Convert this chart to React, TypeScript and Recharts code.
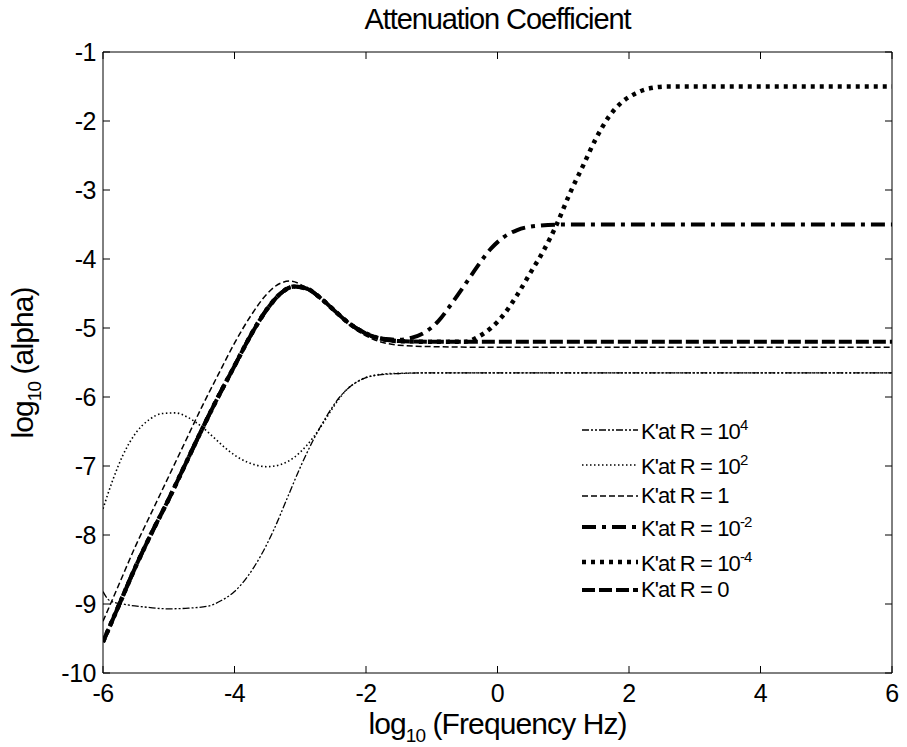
import React from "react";
import { LineChart, Line, XAxis, YAxis } from "recharts";

// tick labels
const xTicks = [-6, -4, -2, 0, 2, 4, 6];
const yTicks = [-10, -9, -8, -7, -6, -5, -4, -3, -2, -1];

// log10(frequency) vs log10(alpha)
const r4 = [
  { x: -6, y: -8.82 }, { x: -5.9, y: -8.95 }, { x: -5.7, y: -9.0 }, { x: -5.4, y: -9.04 },
  { x: -5.0, y: -9.07 }, { x: -4.7, y: -9.06 }, { x: -4.4, y: -9.03 }, { x: -4.2, y: -8.95 },
  { x: -4.0, y: -8.82 }, { x: -3.8, y: -8.6 }, { x: -3.6, y: -8.3 }, { x: -3.4, y: -7.92 },
  { x: -3.2, y: -7.47 }, { x: -3.0, y: -7.02 }, { x: -2.8, y: -6.62 }, { x: -2.6, y: -6.28 },
  { x: -2.4, y: -6.0 }, { x: -2.2, y: -5.82 }, { x: -2.0, y: -5.72 }, { x: -1.8, y: -5.68 },
  { x: -1.5, y: -5.66 }, { x: -1, y: -5.65 }, { x: 2, y: -5.65 }, { x: 6, y: -5.65 },
];

const r2 = [
  { x: -6, y: -7.62 }, { x: -5.85, y: -7.2 }, { x: -5.7, y: -6.85 }, { x: -5.5, y: -6.52 },
  { x: -5.3, y: -6.33 }, { x: -5.1, y: -6.24 }, { x: -4.9, y: -6.23 }, { x: -4.7, y: -6.3 },
  { x: -4.5, y: -6.43 }, { x: -4.3, y: -6.6 }, { x: -4.1, y: -6.77 }, { x: -3.9, y: -6.9 },
  { x: -3.7, y: -6.98 }, { x: -3.5, y: -7.01 }, { x: -3.3, y: -6.98 }, { x: -3.1, y: -6.88 },
  { x: -2.9, y: -6.7 }, { x: -2.7, y: -6.45 }, { x: -2.5, y: -6.15 }, { x: -2.3, y: -5.9 },
  { x: -2.1, y: -5.76 }, { x: -1.9, y: -5.69 }, { x: -1.6, y: -5.66 }, { x: -1, y: -5.65 },
  { x: 2, y: -5.65 }, { x: 6, y: -5.65 },
];

const r1 = [
  { x: -6, y: -9.25 }, { x: -5.75, y: -8.7 }, { x: -5.5, y: -8.15 }, { x: -5.25, y: -7.65 },
  { x: -5, y: -7.15 }, { x: -4.75, y: -6.65 }, { x: -4.5, y: -6.15 }, { x: -4.25, y: -5.68 },
  { x: -4, y: -5.22 }, { x: -3.75, y: -4.82 }, { x: -3.5, y: -4.5 }, { x: -3.3, y: -4.35 },
  { x: -3.15, y: -4.32 }, { x: -2.9, y: -4.42 }, { x: -2.7, y: -4.55 }, { x: -2.5, y: -4.73 },
  { x: -2.3, y: -4.92 }, { x: -2.1, y: -5.06 }, { x: -1.9, y: -5.16 }, { x: -1.7, y: -5.22 },
  { x: -1.5, y: -5.25 }, { x: -1, y: -5.27 }, { x: 0, y: -5.28 }, { x: 6, y: -5.28 },
];

const rm2 = [
  { x: -6, y: -9.55 }, { x: -5.75, y: -9.0 }, { x: -5.5, y: -8.45 }, { x: -5.25, y: -7.95 },
  { x: -5, y: -7.48 }, { x: -4.75, y: -6.98 }, { x: -4.5, y: -6.48 }, { x: -4.25, y: -6.0 },
  { x: -4, y: -5.55 }, { x: -3.75, y: -5.1 }, { x: -3.5, y: -4.72 }, { x: -3.3, y: -4.5 },
  { x: -3.1, y: -4.4 }, { x: -2.9, y: -4.43 }, { x: -2.7, y: -4.56 }, { x: -2.5, y: -4.73 },
  { x: -2.3, y: -4.9 }, { x: -2.1, y: -5.03 }, { x: -1.9, y: -5.12 }, { x: -1.7, y: -5.16 },
  { x: -1.5, y: -5.17 }, { x: -1.3, y: -5.14 }, { x: -1.1, y: -5.06 }, { x: -0.9, y: -4.9 },
  { x: -0.7, y: -4.65 }, { x: -0.5, y: -4.38 }, { x: -0.3, y: -4.1 }, { x: -0.1, y: -3.85 },
  { x: 0.1, y: -3.68 }, { x: 0.3, y: -3.58 }, { x: 0.6, y: -3.52 }, { x: 1, y: -3.5 },
  { x: 6, y: -3.5 },
];

const rm4 = [
  { x: -6, y: -9.55 }, { x: -5.75, y: -9.0 }, { x: -5.5, y: -8.45 }, { x: -5.25, y: -7.95 },
  { x: -5, y: -7.48 }, { x: -4.75, y: -6.98 }, { x: -4.5, y: -6.48 }, { x: -4.25, y: -6.0 },
  { x: -4, y: -5.55 }, { x: -3.75, y: -5.1 }, { x: -3.5, y: -4.72 }, { x: -3.3, y: -4.5 },
  { x: -3.1, y: -4.4 }, { x: -2.9, y: -4.43 }, { x: -2.7, y: -4.56 }, { x: -2.5, y: -4.73 },
  { x: -2.3, y: -4.9 }, { x: -2.1, y: -5.03 }, { x: -1.9, y: -5.12 }, { x: -1.7, y: -5.17 },
  { x: -1.5, y: -5.19 }, { x: -1, y: -5.2 }, { x: -0.5, y: -5.2 }, { x: -0.3, y: -5.13 },
  { x: -0.1, y: -5.0 }, { x: 0.1, y: -4.8 }, { x: 0.3, y: -4.52 }, { x: 0.5, y: -4.2 },
  { x: 0.7, y: -3.88 }, { x: 0.9, y: -3.5 }, { x: 1.1, y: -3.05 }, { x: 1.3, y: -2.65 },
  { x: 1.5, y: -2.25 }, { x: 1.7, y: -1.93 }, { x: 1.9, y: -1.72 }, { x: 2.1, y: -1.6 },
  { x: 2.3, y: -1.53 }, { x: 2.6, y: -1.5 }, { x: 6, y: -1.5 },
];

const r0 = [
  { x: -6, y: -9.55 }, { x: -5.75, y: -9.0 }, { x: -5.5, y: -8.45 }, { x: -5.25, y: -7.95 },
  { x: -5, y: -7.48 }, { x: -4.75, y: -6.98 }, { x: -4.5, y: -6.48 }, { x: -4.25, y: -6.0 },
  { x: -4, y: -5.55 }, { x: -3.75, y: -5.1 }, { x: -3.5, y: -4.72 }, { x: -3.3, y: -4.5 },
  { x: -3.1, y: -4.4 }, { x: -2.9, y: -4.43 }, { x: -2.7, y: -4.56 }, { x: -2.5, y: -4.73 },
  { x: -2.3, y: -4.9 }, { x: -2.1, y: -5.03 }, { x: -1.9, y: -5.12 }, { x: -1.7, y: -5.17 },
  { x: -1.5, y: -5.19 }, { x: -1, y: -5.2 }, { x: 0, y: -5.2 }, { x: 6, y: -5.2 },
];

const FONT = "'Liberation Sans', Arial, sans-serif";

const series = [
  { key: "r4", data: r4, label: "10", sup: "4", width: 1.3, dash: "7 2 2 2 2 2" },
  { key: "r2", data: r2, label: "10", sup: "2", width: 1.6, dash: "1.5 2.5" },
  { key: "r1", data: r1, label: "1", sup: "", width: 1.5, dash: "6 3" },
  { key: "rm2", data: rm2, label: "10", sup: "-2", width: 4, dash: "14 6 4 6" },
  { key: "rm4", data: rm4, label: "10", sup: "-4", width: 4.5, dash: "4 5" },
  { key: "r0", data: r0, label: "0", sup: "", width: 4, dash: "13 4" },
];

// legend row centres (px)
const legendRows = [430, 465, 496, 527, 562, 590];

const BottomTick = (props: any) => {
  const { x, y, payload } = props;
  return (
    <g>
      <line x1={x} y1={y} x2={x} y2={y - 7} stroke="#000" strokeWidth={1} />
      <text x={x} y={y + 29} textAnchor="middle" fontSize={25} fontFamily={FONT} fill="#000" letterSpacing={-0.5}>
        {payload.value}
      </text>
    </g>
  );
};

const LeftTick = (props: any) => {
  const { x, y, payload } = props;
  return (
    <g>
      <line x1={x} y1={y} x2={x + 7} y2={y} stroke="#000" strokeWidth={1} />
      <text x={x - 7} y={y + 9} textAnchor="end" fontSize={25} fontFamily={FONT} fill="#000" letterSpacing={-0.5}>
        {payload.value}
      </text>
    </g>
  );
};

const TopTick = (props: any) => {
  const { x, y } = props;
  return <line x1={x} y1={y} x2={x} y2={y + 7} stroke="#000" strokeWidth={1} />;
};

const RightTick = (props: any) => {
  const { x, y } = props;
  return <line x1={x} y1={y} x2={x - 7} y2={y} stroke="#000" strokeWidth={1} />;
};

export default function App() {
  return (
    <div style={{ position: "absolute", left: 0, top: 0, width: 907, height: 747, background: "#fff", fontFamily: FONT }}>
      <LineChart width={907} height={747} margin={{ top: 51, right: 14, bottom: 73, left: 102 }}>
        <XAxis
          dataKey="x"
          type="number"
          domain={[-6, 6]}
          ticks={xTicks}
          height={1}
          tickSize={0}
          tickMargin={0}
          tick={<BottomTick />}
          axisLine={{ stroke: "#000" }}
          allowDataOverflow
        />
        <XAxis
          xAxisId="top"
          orientation="top"
          dataKey="x"
          type="number"
          domain={[-6, 6]}
          ticks={xTicks}
          height={1}
          tickSize={0}
          tickMargin={0}
          tick={<TopTick />}
          axisLine={{ stroke: "#000" }}
          allowDataOverflow
        />
        <YAxis
          type="number"
          domain={[-10, -1]}
          ticks={yTicks}
          width={1}
          tickSize={0}
          tickMargin={0}
          tick={<LeftTick />}
          axisLine={{ stroke: "#000" }}
          allowDataOverflow
        />
        <YAxis
          yAxisId="right"
          orientation="right"
          type="number"
          domain={[-10, -1]}
          ticks={yTicks}
          width={1}
          tickSize={0}
          tickMargin={0}
          tick={<RightTick />}
          axisLine={{ stroke: "#000" }}
          allowDataOverflow
        />
        {series.map((s) => (
          <Line
            key={s.key}
            data={s.data}
            dataKey="y"
            type="monotone"
            stroke="#000"
            strokeWidth={s.width}
            strokeDasharray={s.dash}
            dot={false}
            activeDot={false}
            isAnimationActive={false}
          />
        ))}
      </LineChart>

      {/* title */}
      <div style={{ position: "absolute", left: 103, width: 789, top: 3, textAlign: "center", fontSize: 29, letterSpacing: -1.1, lineHeight: "32px" }}>
        Attenuation Coefficient
      </div>

      {/* x label */}
      <div style={{ position: "absolute", left: 103, width: 789, top: 708, textAlign: "center", fontSize: 30, letterSpacing: -0.9, lineHeight: "32px" }}>
        log<sub style={{ fontSize: 19, verticalAlign: -8 }}>10</sub> (Frequency Hz)
      </div>

      {/* y label */}
      <div
        style={{
          position: "absolute",
          left: 29,
          top: 363,
          transform: "translate(-50%, -50%) rotate(-90deg)",
          whiteSpace: "nowrap",
          fontSize: 30,
          letterSpacing: -0.9,
          lineHeight: "32px",
        }}
      >
        log<sub style={{ fontSize: 19, verticalAlign: -8 }}>10</sub> (alpha)
      </div>

      {/* legend */}
      {series.map((s, i) => (
        <div key={s.key} style={{ position: "absolute", left: 582, top: legendRows[i] - 14, height: 28, display: "flex", alignItems: "center", whiteSpace: "nowrap" }}>
          <svg width={56} height={10} style={{ marginRight: 3 }}>
            <line x1={0} y1={5} x2={56} y2={5} stroke="#000" strokeWidth={s.width} strokeDasharray={s.dash} />
          </svg>
          <span style={{ fontSize: 22, letterSpacing: -0.9 }}>
            K'at R = {s.label}
            {s.sup && <sup style={{ fontSize: 15, verticalAlign: 9 }}>{s.sup}</sup>}
          </span>
        </div>
      ))}
    </div>
  );
}
